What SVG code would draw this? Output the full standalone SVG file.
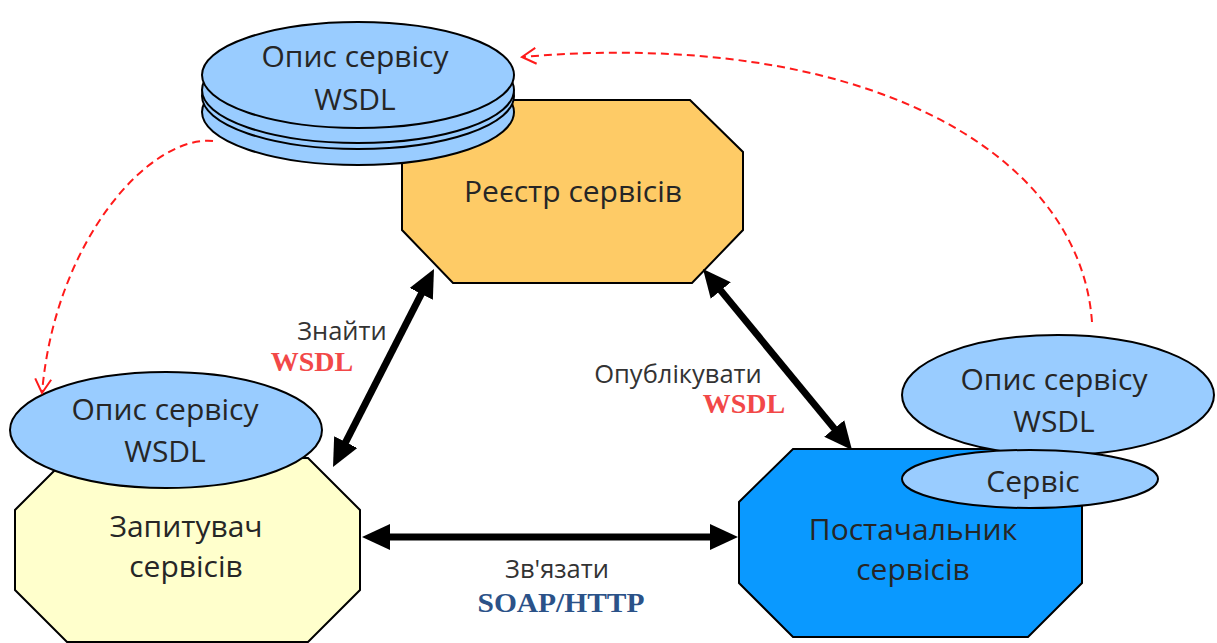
<svg xmlns="http://www.w3.org/2000/svg" width="1217" height="643" viewBox="0 0 1217 643">
  <style>
    .oct { stroke: #000; stroke-width: 2; stroke-linejoin: miter; }
    .ell { fill: #99CCFF; stroke: #000; stroke-width: 2; }
    .lbl { font-family: "Open Sans", "Noto Sans", sans-serif; font-size: 30px; fill: #262626; text-anchor: middle; }
    .sm { font-family: "Open Sans", "Noto Sans", sans-serif; font-size: 25.5px; fill: #333; text-anchor: middle; }
    .red { font-family: "Liberation Serif", serif; font-weight: bold; font-size: 28px; fill: #F24848; text-anchor: middle; }
    .blue { font-family: "Liberation Serif", serif; font-weight: bold; font-size: 28px; fill: #2B5288; text-anchor: middle; }
    .thick { stroke: #000; stroke-width: 7; fill: none; marker-start: url(#head); marker-end: url(#head); }
    .dash { stroke: #FF1A1A; stroke-width: 2; stroke-dasharray: 8 5; fill: none; marker-end: url(#open); }
  </style>
  <defs>
    <marker id="head" markerUnits="userSpaceOnUse" markerWidth="28" markerHeight="26" refX="8" refY="13" orient="auto-start-reverse">
      <path d="M0,0 L28,13 L0,26 z" fill="#000"/>
    </marker>
    <marker id="open" markerUnits="userSpaceOnUse" markerWidth="18" markerHeight="18" refX="15" refY="9" orient="auto">
      <path d="M1,1 L15,9 L1,17" fill="none" stroke="#FF1A1A" stroke-width="2"/>
    </marker>
  </defs>
  <rect width="1217" height="643" fill="#fff"/>

  <!-- service registry -->
  <g id="registry">
    <polygon class="oct" fill="#FECB66" points="453,100 690,100 743,152 743,230 692,283 453,283 402,230 402,152"/>
    <text class="lbl" x="573" y="202">Реєстр сервісів</text>
  </g>

  <!-- stacked WSDL descriptions held by the registry -->
  <g id="registry-wsdl">
    <ellipse class="ell" cx="358" cy="112" rx="156" ry="53"/>
    <ellipse class="ell" cx="358" cy="96" rx="156" ry="53"/>
    <ellipse class="ell" cx="358" cy="90" rx="156" ry="53"/>
    <ellipse class="ell" cx="358" cy="75" rx="156" ry="53"/>
    <text class="lbl" x="355" y="67">Опис сервісу</text>
    <text class="lbl" x="355" y="110">WSDL</text>
  </g>

  <!-- service requester -->
  <g id="requester">
    <polygon class="oct" fill="#FFFFCC" points="67,458 308,458 360,510 360,590 308,642 67,642 15,590 15,510"/>
    <text class="lbl" x="186" y="537">Запитувач</text>
    <text class="lbl" x="186" y="577">сервісів</text>
  </g>
  <g id="requester-wsdl">
    <ellipse class="ell" cx="166" cy="430" rx="156" ry="58"/>
    <text class="lbl" x="165" y="420">Опис сервісу</text>
    <text class="lbl" x="165" y="462">WSDL</text>
  </g>

  <!-- service provider -->
  <g id="provider">
    <polygon class="oct" fill="#0A99FF" points="793,449 1028,449 1082,502 1082,583 1028,637 793,637 739,583 739,502"/>
    <text class="lbl" x="913" y="540">Постачальник</text>
    <text class="lbl" x="913" y="580">сервісів</text>
  </g>
  <g id="provider-wsdl">
    <ellipse class="ell" cx="1058" cy="395" rx="156" ry="60"/>
    <text class="lbl" x="1054" y="390">Опис сервісу</text>
    <text class="lbl" x="1054" y="432">WSDL</text>
  </g>
  <g id="provider-service">
    <ellipse class="ell" cx="1030" cy="479" rx="128" ry="29"/>
    <text class="lbl" x="1033" y="492">Сервіс</text>
  </g>

  <!-- connectors -->
  <g id="connectors">
    <line class="thick" x1="424.9" y1="286.8" x2="342.1" y2="449.2"/>
    <line class="thick" x1="715.7" y1="284.4" x2="839.3" y2="434.6"/>
    <line class="thick" x1="382" y1="537" x2="718" y2="537"/>
    <path class="dash" d="M1092,322 C1080,150 860,28 522,57"/>
    <path class="dash" d="M213,141 C150,135 55,240 42,393"/>
  </g>

  <!-- connector labels -->
  <g id="labels">
    <text class="sm" x="342" y="340">Знайти</text>
    <text class="red" x="312" y="371">WSDL</text>
    <text class="sm" x="678" y="383">Опублікувати</text>
    <text class="red" x="744" y="413">WSDL</text>
    <text class="sm" x="557" y="578">Зв'язати</text>
    <text class="blue" x="561" y="612" textLength="167" lengthAdjust="spacingAndGlyphs">SOAP/HTTP</text>
  </g>
</svg>
